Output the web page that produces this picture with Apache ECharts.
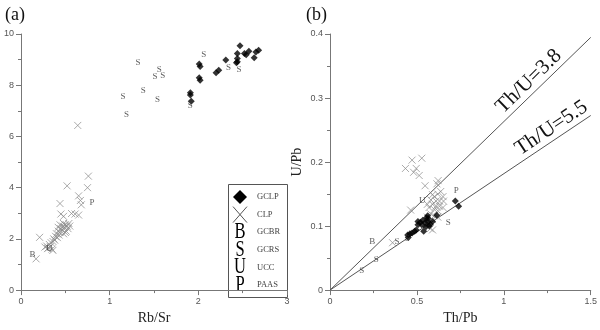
<!DOCTYPE html>
<html>
<head>
<meta charset="utf-8">
<script src="https://cdn.jsdelivr.net/npm/echarts@6/dist/echarts.min.js"></script>
<style>
  html, body { margin: 0; padding: 0; background: #fff; }
  #chart { width: 600px; height: 330px; }
</style>
</head>
<body>
<div id="chart"></div>
<script>
// panel (a): Rb/Sr vs Th/U
const gclpA = [[1.91,7.71],[1.91,7.62],[1.92,7.37],[2.01,8.83],[2.02,8.73],[2.01,8.29],[2.02,8.19],
  [2.2,8.49],[2.23,8.58],[2.31,8.98],[2.44,8.92],[2.44,9.04],[2.44,9.24],[2.43,8.88],[2.47,9.54],
  [2.52,9.24],[2.54,9.19],[2.57,9.33],[2.63,9.07],[2.65,9.3],[2.68,9.37]];
const clpA = [[0.64,6.43],[0.76,4.45],[0.75,4.0],[0.52,4.07],[0.65,3.68],[0.67,3.5],[0.68,3.33],
  [0.44,3.38],[0.45,2.97],[0.48,2.88],[0.57,2.99],[0.61,2.97],[0.65,2.93],[0.21,2.06],[0.17,1.22],
  [0.27,1.68],[0.29,1.72],[0.31,1.65],[0.32,1.78],[0.34,1.85],[0.33,1.7],[0.35,1.6],[0.36,1.9],
  [0.37,2.0],[0.38,1.95],[0.39,2.1],[0.40,2.2],[0.41,2.05],[0.42,2.3],[0.43,2.15],[0.44,2.25],
  [0.45,2.4],[0.46,2.35],[0.47,2.5],[0.48,2.2],[0.49,2.45],[0.50,2.55],[0.51,2.3],[0.52,2.5],
  [0.53,2.4],[0.54,2.6],[0.55,2.5],[0.44,2.55],[0.42,2.45],[0.48,2.6],[0.50,2.25],[0.36,1.55],[0.30,1.62]];
const gcbrA = [[0.13,1.37]];
const gcrsA = [[1.32,8.89],[2.06,9.2],[1.56,8.62],[1.51,8.32],[1.6,8.39],[1.38,7.8],[1.15,7.54],
  [1.54,7.44],[1.19,6.86],[1.91,7.21],[2.34,8.68],[2.46,8.6]];
const uccA = [[0.32,1.6]];
const paasA = [[0.80,3.4]];

// panel (b): Th/Pb vs U/Pb
const gclpB = [[0.721,0.139],[0.74,0.131],[0.614,0.117],[0.562,0.116],[0.539,0.092],[0.506,0.107],
  [0.52,0.106],[0.534,0.109],[0.547,0.105],[0.562,0.107],[0.577,0.103],[0.552,0.099],[0.571,0.100],
  [0.528,0.102],[0.59,0.107],[0.506,0.102],[0.496,0.094],[0.487,0.092],[0.472,0.089],[0.46,0.088],
  [0.447,0.086],[0.45,0.082],[0.565,0.112],[0.555,0.113]];
const clpB = [[0.472,0.203],[0.528,0.206],[0.434,0.190],[0.496,0.190],[0.481,0.184],[0.513,0.179],
  [0.547,0.163],[0.622,0.171],[0.615,0.166],[0.464,0.125],[0.36,0.074],
  [0.59,0.149],[0.60,0.146],[0.62,0.150],[0.637,0.154],[0.65,0.146],[0.58,0.141],[0.61,0.139],
  [0.63,0.139],[0.653,0.139],[0.59,0.134],[0.61,0.131],[0.63,0.131],[0.57,0.129],[0.60,0.126],
  [0.62,0.124],[0.58,0.119],[0.60,0.116],[0.56,0.114],[0.59,0.110],[0.62,0.114],[0.577,0.096],
  [0.59,0.094],[0.56,0.134],[0.65,0.129]];
const gcbrB = [[0.243,0.076]];
const gcrsB = [[0.182,0.031],[0.266,0.047],[0.386,0.075],[0.446,0.081],[0.68,0.106]];
const uccB = [[0.53,0.140]];
const paasB = [[0.727,0.155]];

const thuRatios = [3.8, 5.5];
const legendNames = ['GCLP', 'CLP', 'GCBR', 'GCRS', 'UCC', 'PAAS'];

const serif = '"Liberation Serif", "DejaVu Serif", serif';
const sans = '"Liberation Sans", Arial, sans-serif';
const axisGray = '#777';
const crossPath = 'path://M0,0L10,10M10,0L0,10';

const axisBase = (min, max, interval) => ({
  min: min, max: max, interval: interval,
  axisLine: { lineStyle: { color: axisGray, width: 1 } },
  axisTick: { length: 5, lineStyle: { color: axisGray } },
  minorTick: { show: true, splitNumber: 2, length: 3, lineStyle: { color: axisGray } },
  axisLabel: { color: '#555', fontSize: 9, fontFamily: sans, margin: 7 },
  splitLine: { show: false },
  nameTextStyle: { color: '#222', fontSize: 14, fontFamily: serif }
});

const letterSeries = (data, letter, xi) => ({
  type: 'scatter', xAxisIndex: xi, yAxisIndex: xi, data: data,
  symbol: 'circle', symbolSize: 1, itemStyle: { color: 'transparent' },
  label: { show: true, position: 'inside', formatter: letter, color: '#333',
    fontSize: 9, fontFamily: serif },
  silent: true, z: 4
});
const clpSeries = (data, xi) => ({
  type: 'scatter', xAxisIndex: xi, yAxisIndex: xi, data: data,
  symbol: crossPath, symbolSize: 7,
  itemStyle: { color: 'transparent', borderColor: '#888', borderWidth: 0.9 }, z: 2
});
const gclpSeries = (data, xi) => ({
  type: 'scatter', xAxisIndex: xi, yAxisIndex: xi, data: data,
  symbol: 'diamond', symbolSize: 7, itemStyle: { color: '#000' }, z: 3
});

const lineSeries = thuRatios.map(r => ({
  type: 'line', xAxisIndex: 1, yAxisIndex: 1, data: [[0, 0], [1.5, 1.5 / r]],
  symbol: 'none', lineStyle: { color: '#555', width: 1 }, silent: true, z: 1
}));

// legend drawn as graphics
const lgX = 228, lgY = 184, lgW = 59, lgH = 113, rowH = 17.6;
const legendEls = [{
  type: 'rect', shape: { x: lgX + 0.5, y: lgY + 0.5, width: lgW, height: lgH },
  style: { fill: '#fff', stroke: '#555', lineWidth: 1 }
}];
legendNames.forEach((name, i) => {
  const cy = lgY + 13 + i * rowH;
  const sx = lgX + 12;
  if (i === 0) {
    legendEls.push({ type: 'polygon', shape: { points: [[sx, cy - 7], [sx + 7, cy], [sx, cy + 7], [sx - 7, cy]] },
      style: { fill: '#000' } });
  } else if (i === 1) {
    legendEls.push({ type: 'polyline', shape: { points: [[sx - 7, cy - 8], [sx + 7, cy + 8]] }, style: { stroke: '#555', lineWidth: 1 } });
    legendEls.push({ type: 'polyline', shape: { points: [[sx + 7, cy - 8], [sx - 7, cy + 8]] }, style: { stroke: '#555', lineWidth: 1 } });
  } else {
    legendEls.push({ type: 'text', x: sx, y: cy, scaleX: 0.72,
      style: { text: ['', '', 'B', 'S', 'U', 'P'][i], font: '23px ' + serif, fill: '#000',
        align: 'center', verticalAlign: 'middle' } });
  }
  legendEls.push({ type: 'text', x: lgX + 29, y: cy,
    style: { text: name, font: '8.5px ' + serif, fill: '#444', verticalAlign: 'middle' } });
});

const chart = echarts.init(document.getElementById('chart'), null, { renderer: 'canvas' });
chart.setOption({
  animation: false,
  grid: [
    { left: 21, top: 34, width: 266, height: 267 },
    { left: 330, top: 34, width: 267, height: 267 }
  ],
  xAxis: [
    Object.assign(axisBase(0, 3, 1), { gridIndex: 0, name: 'Rb/Sr', nameLocation: 'middle', nameGap: 15 }),
    Object.assign(axisBase(0, 1.5, 0.5), { gridIndex: 1, name: 'Th/Pb', nameLocation: 'middle', nameGap: 15 })
  ],
  yAxis: [
    Object.assign(axisBase(0, 10, 2), { gridIndex: 0 }),
    Object.assign(axisBase(0, 0.4, 0.1), { gridIndex: 1, name: 'U/Pb', nameLocation: 'middle', nameGap: 26, nameRotate: 90 })
  ],
  series: [
    clpSeries(clpA, 0), gclpSeries(gclpA, 0),
    letterSeries(gcbrA, 'B', 0), letterSeries(gcrsA, 'S', 0), letterSeries(uccA, 'U', 0), letterSeries(paasA, 'P', 0),
    ...lineSeries,
    clpSeries(clpB, 1), gclpSeries(gclpB, 1),
    letterSeries(gcbrB, 'B', 1), letterSeries(gcrsB, 'S', 1), letterSeries(uccB, 'U', 1), letterSeries(paasB, 'P', 1)
  ]
});

// ratio line labels, placed along each line
const labelAt = [1.19, 1.31];
const lineTexts = thuRatios.map((r, i) => {
  const p0 = chart.convertToPixel({ xAxisIndex: 1, yAxisIndex: 1 }, [0, 0]);
  const p1 = chart.convertToPixel({ xAxisIndex: 1, yAxisIndex: 1 }, [1.5, 1.5 / r]);
  const ang = Math.atan2(p0[1] - p1[1], p1[0] - p0[0]);
  const p = chart.convertToPixel({ xAxisIndex: 1, yAxisIndex: 1 }, [labelAt[i], labelAt[i] / r]);
  const off = 1;
  return {
    type: 'text', x: p[0] - off * Math.sin(ang), y: p[1] - off * Math.cos(ang), rotation: ang,
    style: { text: 'Th/U=' + r, font: '21px ' + serif, fill: '#111', align: 'center', verticalAlign: 'bottom' }
  };
});

chart.setOption({
  graphic: [
    { type: 'text', left: 5, top: 6, style: { text: '(a)', font: '18px ' + serif, fill: '#111' } },
    { type: 'text', left: 306, top: 6, style: { text: '(b)', font: '18px ' + serif, fill: '#111' } },
    ...legendEls,
    ...lineTexts
  ]
});
</script>
</body>
</html>
